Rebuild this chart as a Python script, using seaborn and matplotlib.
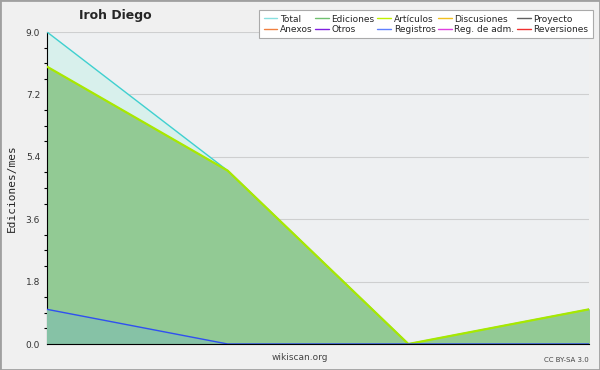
import matplotlib
matplotlib.use("Agg")
import matplotlib.pyplot as plt
from matplotlib.lines import Line2D
from matplotlib.patches import Rectangle
import seaborn as sns
import pandas as pd

# Données (éditions par mois)
mois = [0, 1, 2, 3]
total = [9, 5, 0, 1]
ediciones = [8, 5, 0, 1]
articulos = [8, 5, 0, 1]
registros = [1, 0, 0, 0]

y_ticks = [0.0, 1.8, 3.6, 5.4, 7.2, 9.0]

series_noms = ["Total", "Ediciones", "Artículos", "Discusiones", "Proyecto",
               "Anexos", "Otros", "Registros", "Reg. de adm.", "Reversiones"]
series_couleurs = ["#88e0e0", "#70c070", "#c0f000", "#f0c020", "#606060",
                   "#f08040", "#8020e0", "#6080ff", "#e040e0", "#f03030"]

df = pd.DataFrame({"mois": mois, "total": total, "ediciones": ediciones,
                   "articulos": articulos, "registros": registros})

sns.set_style("white")
fig = plt.figure(figsize=(6, 3.7), dpi=100, facecolor="#f0f0f0")
ax = fig.add_axes([47 / 600, 26 / 370, 542 / 600, 312 / 370])
ax.set_facecolor("#eef0f2")

# Aires empilées
ax.fill_between(df["mois"], df["total"], color="#d8f0ec", zorder=1)
ax.fill_between(df["mois"], df["ediciones"], color="#92ca94", zorder=2)
ax.fill_between(df["mois"], df["registros"], color="#86c2a6", zorder=3)

sns.lineplot(data=df, x="mois", y="total", color="#40d0d0", lw=1, ax=ax, zorder=5)
sns.lineplot(data=df, x="mois", y="articulos", color="#a8e800", lw=1.6, ax=ax, zorder=6)
sns.lineplot(data=df, x="mois", y="registros", color="#3050f0", lw=1, ax=ax, zorder=7)

ax.set_xlim(0, 3)
ax.set_ylim(0, 9)
ax.set_xticks(mois)
ax.set_xticklabels([])
ax.set_yticks(y_ticks)
ax.set_yticklabels([f"{v:.1f}" for v in y_ticks], fontsize=6.5, color="#333333")
ax.set_yticks([i * 0.45 for i in range(21)], minor=True)
ax.tick_params(axis="both", which="major", direction="out", length=4, width=1,
               color="black", pad=1)
ax.tick_params(axis="y", which="minor", direction="out", length=2, width=0.8,
               color="black", left=True)
ax.grid(axis="y", color="#b0b0b0", lw=0.8, alpha=0.5)
for gl in ax.get_ygridlines():
    gl.set_zorder(4)
for cote in ["top", "right"]:
    ax.spines[cote].set_visible(False)
ax.spines["left"].set_color("black")
ax.spines["bottom"].set_color("black")
ax.spines["bottom"].set_zorder(10)
ax.set_xlabel("")
ax.set_ylabel("Ediciones/mes", family="DejaVu Sans Mono", fontsize=8, labelpad=6)

fig.text(115 / 600, 1 - 15 / 370, "Iroh Diego", fontsize=9, fontweight="bold",
         ha="center", va="center")
fig.text(300 / 600, 1 - 358 / 370, "wikiscan.org", fontsize=6.5, color="#444444",
         ha="center", va="center")
fig.text(589 / 600, 1 - 360 / 370, "CC BY-SA 3.0", fontsize=5, color="#444444",
         ha="right", va="center")

# Légende (ordre colonne par colonne)
ordre = [0, 5, 1, 6, 2, 7, 3, 8, 4, 9]
poignees = [Line2D([], [], color=series_couleurs[i], lw=1) for i in ordre]
etiquettes = [series_noms[i] for i in ordre]
leg = fig.legend(poignees, etiquettes, ncol=5, loc="upper right",
                 bbox_to_anchor=(593 / 600, 1 - 10 / 370), fontsize=6.5,
                 frameon=True, fancybox=False, framealpha=1, edgecolor="#aaaaaa",
                 handlelength=1.5, handletextpad=0.3, columnspacing=0.3,
                 labelspacing=0.15, borderpad=0.5, borderaxespad=0)
leg.get_frame().set_linewidth(0.8)

fig.patches.append(Rectangle((0, 0), 1, 1, transform=fig.transFigure, fill=False,
                             edgecolor="#a0a0a0", lw=2))

fig.savefig("out.png", dpi=100, facecolor=fig.get_facecolor())
